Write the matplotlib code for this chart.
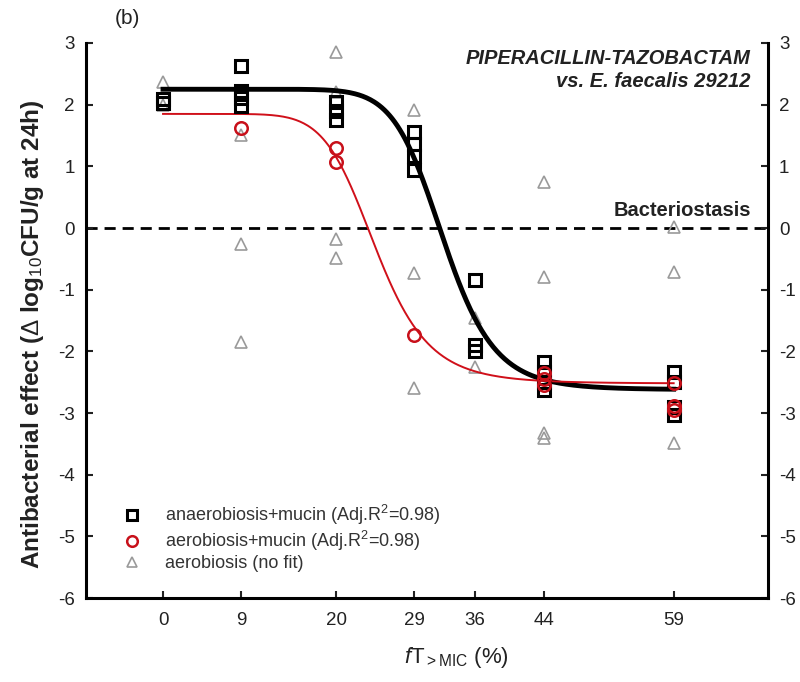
import numpy as np
import matplotlib
matplotlib.use("Agg")
import matplotlib.pyplot as plt

plt.rcParams['font.family'] = ['Liberation Sans', 'DejaVu Sans']
plt.rcParams['axes.unicode_minus'] = False
plt.rcParams['mathtext.fontset'] = 'custom'
plt.rcParams['mathtext.rm'] = 'Liberation Sans'
plt.rcParams['mathtext.it'] = 'Liberation Sans:italic'
plt.rcParams['mathtext.bf'] = 'Liberation Sans:bold'

# ---- data (fT>MIC %, effect) ----
xticks = [0, 9, 20, 29, 36, 44, 59]

anaer_x = [0, 0, 9, 9, 9, 9, 20, 20, 20, 29, 29, 29, 29, 36, 36, 36,
           44, 44, 44, 44, 59, 59, 59, 59]
anaer_y = [2.09, 2.03, 2.63, 2.22, 2.10, 1.97, 2.05, 1.89, 1.75, 1.56, 1.37, 1.16, 0.94,
           -0.84, -1.90, -2.00, -2.17, -2.33, -2.49, -2.63, -2.33, -2.50, -2.90, -3.03]

aer_muc_x = [9, 20, 20, 29, 44, 44, 44, 59, 59, 59]
aer_muc_y = [1.62, 1.29, 1.07, -1.73, -2.35, -2.45, -2.55, -2.52, -2.88, -2.95]

aer_x = [0, 0, 9, 9, 9, 20, 20, 20, 20, 29, 29, 29, 36, 36, 44, 44, 44, 44, 59, 59, 59]
aer_y = [2.37, 2.0, 1.51, -0.26, -1.85, 2.86, 2.21, -0.17, -0.49, 1.91, -0.73, -2.60,
         -1.46, -2.25, 0.75, -0.79, -3.32, -3.41, 0.02, -0.71, -3.49]

# Hill (sigmoid Emax) fit parameters: top, bottom, EC50, slope
anaer_fit = dict(top=2.25, bottom=-2.62, ec50=32.4, h=11.0)
aer_muc_fit = dict(top=1.85, bottom=-2.52, ec50=24.6, h=8.0)


def hill(x, top, bottom, ec50, h):
    x = np.asarray(x, dtype=float)
    return bottom + (top - bottom) / (1.0 + (x / ec50) ** h)


TXT = '#222222'
fig = plt.figure(figsize=(8, 6.82), dpi=100)
ax = fig.add_axes([0.1075, 0.123, 0.8525, 0.814])

xs = np.linspace(0, 59, 400)
ax.axhline(0, color='black', lw=2, ls=(0, (4, 2.5)), zorder=1)
ax.plot(xs, hill(xs, **anaer_fit), color='black', lw=3.5, zorder=3)
ax.plot(xs, hill(xs, **aer_muc_fit), color='#d0101a', lw=1.4, zorder=4)

ax.plot(aer_x, aer_y, ls='none', marker='^', ms=8.5, mfc='none', mec='#9a9a9a', mew=1.2,
        zorder=2, label='aerobiosis (no fit)')
ax.plot(anaer_x, anaer_y, ls='none', marker='s', ms=8, mfc='none', mec='black', mew=2.2,
        zorder=5, label='anaerobiosis+mucin (Adj.R$^2$=0.98)')
ax.plot(aer_muc_x, aer_muc_y, ls='none', marker='o', ms=9, mfc='none', mec='#c8101a', mew=1.8,
        zorder=6, label='aerobiosis+mucin (Adj.R$^2$=0.98)')

ax.set_xlim(-8.9, 69.9)
ax.set_ylim(-6, 3)
ax.set_xticks(xticks)
ax.set_yticks(range(-6, 4))

for s in ['left', 'right', 'bottom']:
    ax.spines[s].set_linewidth(2.2)
ax.spines['top'].set_visible(False)
ax.tick_params(axis='both', direction='in', length=5, width=1.5, labelsize=13.5,
               colors=TXT, labelcolor=TXT)
ax.tick_params(axis='y', right=True, labelright=True, pad=8)
ax.tick_params(axis='x', pad=10)

ax.set_ylabel('Antibacterial effect ($\\Delta$ log$_{10}$CFU/g at 24h)', fontsize=17.5,
              fontweight='bold', color=TXT)
ax.yaxis.set_label_coords(-0.058, 0.475)
ax.set_xlabel('$f$T$_{>\\mathrm{MIC}}$ (%)', fontsize=16, color=TXT)
ax.xaxis.set_label_coords(0.543, -0.085)

ax.text(0.975, 0.99, 'PIPERACILLIN-TAZOBACTAM\nvs. E. faecalis 29212', transform=ax.transAxes,
        ha='right', va='top', fontsize=14.5, fontweight='bold', style='italic',
        color=TXT, linespacing=1.3)
ax.text(0.975, 0.2, 'Bacteriostasis', transform=ax.get_yaxis_transform(), ha='right',
        va='baseline', fontsize=14.5, fontweight='bold', color=TXT)
fig.text(0.144, 0.973, '(b)', fontsize=15, color=TXT, ha='left', va='center')

handles, labels = ax.get_legend_handles_labels()
order = [1, 2, 0]
leg = ax.legend([handles[i] for i in order], [labels[i] for i in order], loc='lower left',
                bbox_to_anchor=(0.028, 0.018), frameon=False, fontsize=13, handlelength=1.2,
                handletextpad=1.2, labelspacing=0.1, markerscale=0.85)
for t in leg.get_texts():
    t.set_color('#333333')

fig.savefig('out.png', dpi=100)
